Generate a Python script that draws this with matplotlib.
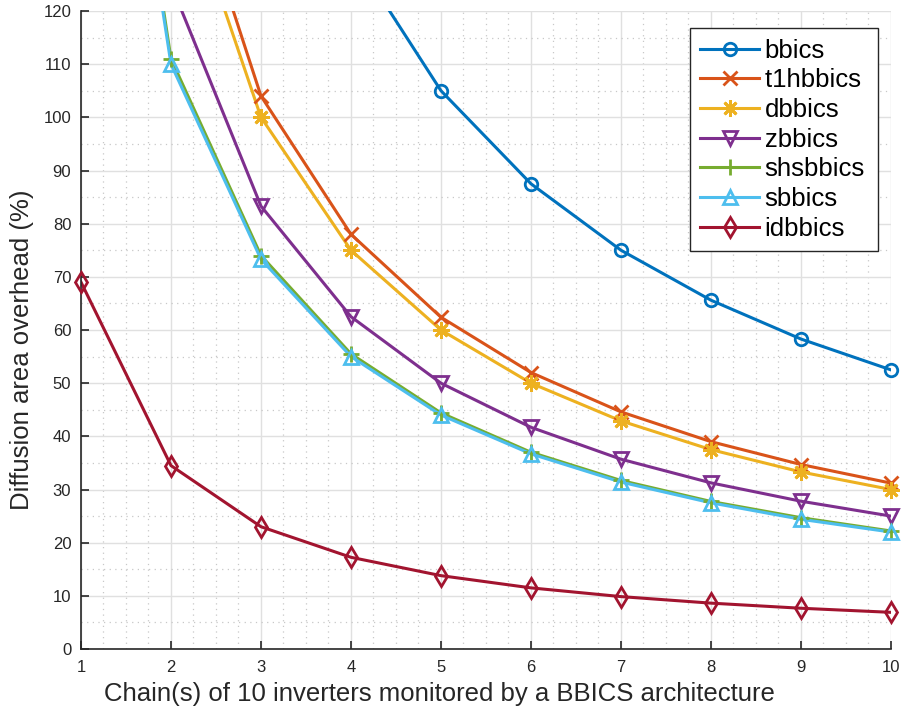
import matplotlib
matplotlib.use("Agg")
import matplotlib.pyplot as plt
from matplotlib.lines import Line2D
from matplotlib.ticker import MultipleLocator

plt.rcParams['font.family'] = ['Liberation Sans', 'DejaVu Sans']

chains = [1, 2, 3, 4, 5, 6, 7, 8, 9, 10]
bbics = [525, 262.5, 175, 131.25, 105, 87.5, 75, 65.6, 58.3, 52.5]
t1hbbics = [312, 156, 104, 78, 62.4, 52, 44.6, 39, 34.7, 31.2]
dbbics = [300, 150, 100, 75, 60, 50, 42.9, 37.5, 33.3, 30]
zbbics = [250, 125, 83.3, 62.5, 50, 41.7, 35.7, 31.25, 27.8, 25]
shsbbics = [222, 111, 74, 55.5, 44.4, 37, 31.7, 27.75, 24.7, 22.2]
sbbics = [220, 110, 73.3, 55, 44, 36.7, 31.4, 27.5, 24.4, 22]
idbbics = [69, 34.5, 23, 17.25, 13.8, 11.5, 9.86, 8.63, 7.67, 6.9]

series = [
    ("bbics", bbics, "#0072BD", "o", 9),
    ("t1hbbics", t1hbbics, "#D95319", "x", 10),
    ("dbbics", dbbics, "#EDB120", (8, 2, 0), 12),
    ("zbbics", zbbics, "#7E2F8E", "v", 10),
    ("shsbbics", shsbbics, "#77AC30", "+", 12),
    ("sbbics", sbbics, "#4DBEEE", "^", 10),
    ("idbbics", idbbics, "#A2142F", "d", 10),
]

YMAX = 120
TXT = "#262626"

fig = plt.figure(figsize=(9.01, 7.14), dpi=100)
ax = fig.add_axes([0.0899, 0.091, 0.899, 0.8936])

handles = []
for name, vals, color, marker, ms in series:
    # line clipped to the axes, markers left unclipped so edge points show whole
    ax.plot(chains, vals, color=color, lw=2.2, solid_joinstyle="round")
    xs = [c for c, v in zip(chains, vals) if v <= YMAX]
    ys = [v for v in vals if v <= YMAX]
    ax.plot(xs, ys, ls="none", marker=marker, ms=ms, mfc="none", mec=color,
            mew=2, clip_on=False, zorder=3)
    handles.append(Line2D([], [], color=color, lw=2.2, marker=marker, ms=ms,
                          mfc="none", mec=color, mew=2, label=name))

ax.set_xlim(1, 10)
ax.set_ylim(0, YMAX)
ax.xaxis.set_major_locator(MultipleLocator(1))
ax.xaxis.set_minor_locator(MultipleLocator(0.25))
ax.yaxis.set_major_locator(MultipleLocator(10))
ax.yaxis.set_minor_locator(MultipleLocator(5))

ax.grid(which="major", color="#e0e0e0", lw=1)
ax.grid(which="minor", color="#c8c8c8", lw=0.9, ls=(0, (1, 3.5)))
ax.set_axisbelow(True)

for s in ["top", "right"]:
    ax.spines[s].set_visible(False)
for s in ["left", "bottom"]:
    ax.spines[s].set_color(TXT)
    ax.spines[s].set_linewidth(1.2)

ax.tick_params(which="major", direction="in", length=6, width=1.2,
               colors=TXT, labelsize=12)
ax.tick_params(axis="y", pad=7)
ax.tick_params(axis="x", pad=8)
ax.tick_params(which="minor", length=0)

ax.set_xlabel("Chain(s) of 10 inverters monitored by a BBICS architecture",
              fontsize=18.5, color=TXT)
ax.set_ylabel("Diffusion area overhead (%)", fontsize=18.5, color=TXT)
ax.xaxis.set_label_coords(0.443, -0.0705)
ax.yaxis.set_label_coords(-0.073, 0.469)
ax.xaxis.label.set_va("center")
ax.yaxis.label.set_va("center")

# a trailing space on the widest entry leaves room on the right of the box
labels = [h.get_label() for h in handles]
widest = max(range(len(labels)), key=lambda i: len(labels[i]))
labels[widest] = labels[widest] + " "

leg = ax.legend(handles=handles, labels=labels, loc="upper right",
                bbox_to_anchor=(0.984, 0.9726), fontsize=18.5, frameon=True,
                fancybox=False, handlelength=2.3, handletextpad=0.2,
                borderpad=0.4, labelspacing=0.22, borderaxespad=0,
                framealpha=1)
leg.get_frame().set_edgecolor(TXT)
leg.get_frame().set_linewidth(1.0)

fig.savefig("out.png", dpi=100)
